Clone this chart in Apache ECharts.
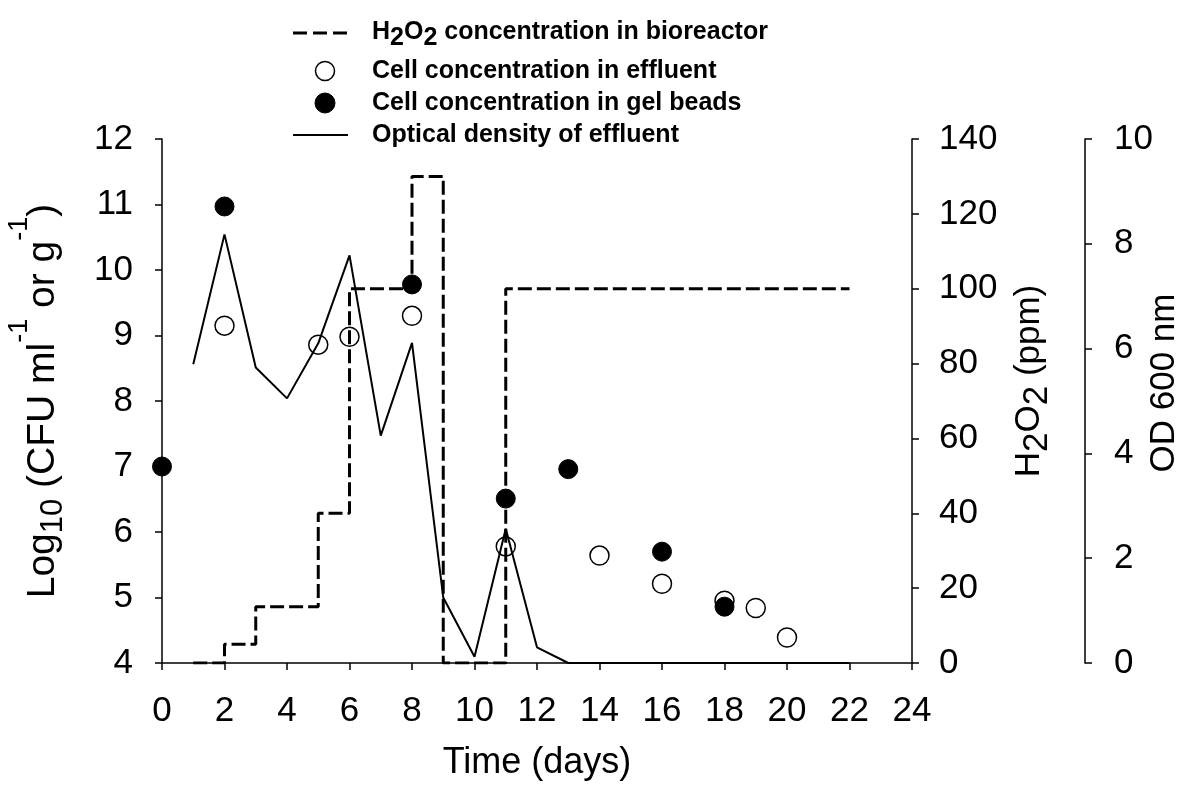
<!DOCTYPE html>
<html><head><meta charset="utf-8">
<script src="https://cdn.jsdelivr.net/npm/echarts@6/dist/echarts.min.js"></script>
<style>html,body{margin:0;padding:0;background:#fff}#c{width:1200px;height:806px}</style>
</head><body><div id="c"></div>
<script>
// ---- data ----
const effluentDays = [2, 5, 6, 8, 11, 14, 16, 18, 19, 20];
const effluentLog  = [9.15, 8.86, 8.98, 9.30, 5.78, 5.64, 5.21, 4.95, 4.84, 4.39];
const beadDays = [0, 2, 8, 11, 13, 16, 18];
const beadLog  = [7.00, 10.97, 9.78, 6.51, 6.96, 5.70, 4.86];
const odDays   = [1, 2, 3, 4, 5, 6, 7, 8, 9, 10, 11, 12, 13, 14, 15, 16, 17, 18, 19, 20, 21, 22];
const odValues = [5.70, 8.18, 5.64, 5.05, 6.10, 7.78, 4.34, 6.11, 1.25, 0.12, 2.56, 0.30, 0, 0, 0, 0, 0, 0, 0, 0, 0, 0];
const h2o2Days = [1, 2, 3, 5, 6, 8, 9, 11, 22];
const h2o2Ppm  = [0, 5, 15, 40, 100, 130, 0, 100, 100];
const legendNames = ['H2O2 concentration in bioreactor', 'Cell concentration in effluent', 'Cell concentration in gel beads', 'Optical density of effluent'];

const pairs = (xs, ys) => xs.map((x, i) => [x, ys[i]]);
const FONT = '"Liberation Sans", Arial, sans-serif';
const lbl = (m) => ({ color: '#000', fontSize: 35, fontFamily: FONT, margin: m });
const axLine = { show: true, lineStyle: { color: '#000', width: 1.5 } };
const tick = { show: true, inside: false, length: 7, lineStyle: { color: '#000', width: 1.5 } };

const chart = echarts.init(document.getElementById('c'), null, { renderer: 'canvas' });
chart.setOption({
  animation: false,
  backgroundColor: '#fff',
  grid: { left: 162, right: 288, top: 139, bottom: 143, containLabel: false, outerBoundsMode: 'none' },
  xAxis: {
    type: 'value', min: 0, max: 24, interval: 2,
    axisLine: axLine, axisTick: tick, splitLine: { show: false },
    axisLabel: lbl(31),
    name: 'Time (days)', nameLocation: 'middle', nameGap: 82, nameMoveOverlap: false,
    nameTextStyle: { color: '#000', fontSize: 36, fontFamily: FONT }
  },
  yAxis: [
    {
      type: 'value', position: 'left', min: 4, max: 12, interval: 1,
      axisLine: axLine, axisTick: tick, splitLine: { show: false },
      axisLabel: lbl(29),
      name: '{n|Log}{sub|10}{n| (CFU ml}{sup|-1}{n| or g}{sup|-1}{n|)}',
      nameLocation: 'middle', nameRotate: 90, nameGap: 117, nameMoveOverlap: false,
      nameTextStyle: {
        color: '#000', fontFamily: FONT,
        rich: {
          n:   { fontSize: 39, lineHeight: 39, padding: [18, 0, 0, 0], verticalAlign: 'top', fontFamily: FONT, color: '#000' },
          sub: { fontSize: 31, lineHeight: 31, padding: [32, 0, 0, 0], verticalAlign: 'top', fontFamily: FONT, color: '#000' },
          sup: { fontSize: 27, lineHeight: 27, padding: [0, 0, 0, 0], verticalAlign: 'top', fontFamily: FONT, color: '#000' }
        }
      }
    },
    {
      type: 'value', position: 'right', min: 0, max: 140, interval: 20,
      axisLine: axLine, axisTick: tick, splitLine: { show: false },
      axisLabel: lbl(27),
      name: '{n|H}{s|2}{n|O}{s|2}{n| (ppm)}',
      nameLocation: 'middle', nameRotate: 90, nameGap: 100, nameMoveOverlap: false,
      nameTextStyle: {
        color: '#000', fontFamily: FONT, padding: [0, 0, 0, 40],
        rich: {
          n: { fontSize: 35, lineHeight: 35, padding: [0, 0, 0, 0], verticalAlign: 'top', fontFamily: FONT, color: '#000' },
          s: { fontSize: 35, lineHeight: 35, padding: [8, 0, 0, 0], verticalAlign: 'top', fontFamily: FONT, color: '#000' }
        }
      }
    },
    {
      type: 'value', position: 'right', offset: 173, min: 0, max: 10, interval: 2,
      axisLine: axLine, axisTick: tick, splitLine: { show: false },
      axisLabel: lbl(29),
      name: 'OD 600 nm', nameLocation: 'middle', nameRotate: 90, nameGap: 62, nameMoveOverlap: false,
      nameTextStyle: { color: '#000', fontSize: 35, fontFamily: FONT, padding: [0, 0, 0, 36] }
    }
  ],
  series: [
    {
      name: legendNames[0], type: 'line', yAxisIndex: 1, step: 'end',
      data: pairs(h2o2Days, h2o2Ppm), symbol: 'none', showSymbol: false,
      lineStyle: { color: '#000', width: 3, type: [14, 5] }, z: 2
    },
    {
      name: legendNames[3], type: 'line', yAxisIndex: 2,
      data: pairs(odDays, odValues), symbol: 'none', showSymbol: false,
      lineStyle: { color: '#000', width: 2 }, z: 3
    },
    {
      name: legendNames[1], type: 'scatter', yAxisIndex: 0,
      data: pairs(effluentDays, effluentLog), symbol: 'circle', symbolSize: 19,
      itemStyle: { color: 'rgba(255,255,255,0)', borderColor: '#000', borderWidth: 1.5, opacity: 1 }, z: 4
    },
    {
      name: legendNames[2], type: 'scatter', yAxisIndex: 0,
      data: pairs(beadDays, beadLog), symbol: 'circle', symbolSize: 19,
      itemStyle: { color: '#000', borderColor: '#000', borderWidth: 1, opacity: 1 }, z: 5
    }
  ],
  graphic: [
    { type: 'line', shape: { x1: 293, y1: 33, x2: 348, y2: 33 }, style: { stroke: '#000', lineWidth: 3, lineDash: [14, 6] } },
    { type: 'text', x: 372, y: 20, style: {
        text: '{b|H}{s|2}{b|O}{s|2}{b| concentration in bioreactor}', verticalAlign: 'top', fill: '#000',
        rich: {
          b: { fontSize: 25, fontWeight: 'bold', fontFamily: FONT, lineHeight: 25, verticalAlign: 'top', padding: [0, 0, 0, 0], fill: '#000' },
          s: { fontSize: 25, fontWeight: 'bold', fontFamily: FONT, lineHeight: 25, verticalAlign: 'top', padding: [6, 0, 0, 0], fill: '#000' }
        } } },
    { type: 'circle', shape: { cx: 325, cy: 71, r: 9.5 }, style: { fill: '#fff', stroke: '#000', lineWidth: 1.5 } },
    { type: 'text', x: 372, y: 71, style: { text: legendNames[1], fill: '#000', font: 'bold 25px ' + FONT, verticalAlign: 'middle' } },
    { type: 'circle', shape: { cx: 325, cy: 103, r: 10 }, style: { fill: '#000', stroke: '#000', lineWidth: 1 } },
    { type: 'text', x: 372, y: 103, style: { text: legendNames[2], fill: '#000', font: 'bold 25px ' + FONT, verticalAlign: 'middle' } },
    { type: 'line', shape: { x1: 293, y1: 135, x2: 348, y2: 135 }, style: { stroke: '#000', lineWidth: 2 } },
    { type: 'text', x: 372, y: 135, style: { text: legendNames[3], fill: '#000', font: 'bold 25px ' + FONT, verticalAlign: 'middle' } }
  ]
});
</script>
</body></html>
